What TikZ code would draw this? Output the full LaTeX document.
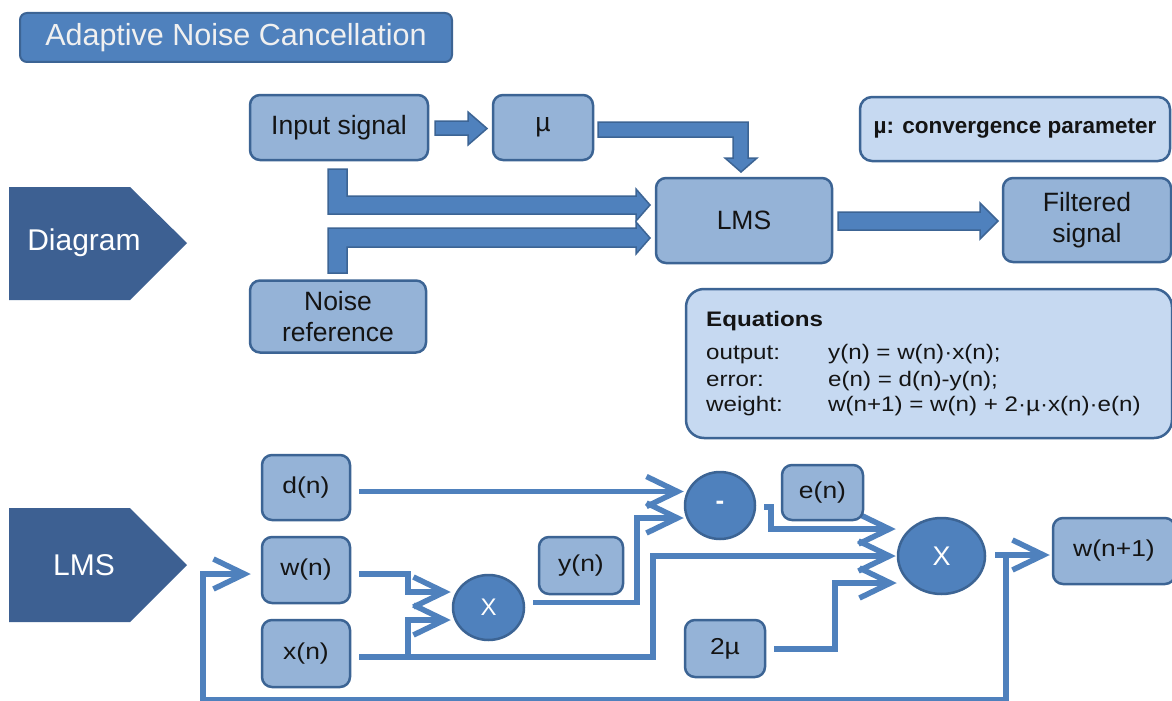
\documentclass[tikz,border=0pt]{standalone}
\usepackage{fontspec}
\setmainfont{Liberation Sans}
\newfontfamily\wfont[FakeStretch=1.15]{Liberation Sans}
\usetikzlibrary{arrows.meta,calc,shapes.geometric}
\definecolor{boxfill}{HTML}{95B3D7}
\definecolor{boxdraw}{HTML}{3C6494}
\definecolor{lightfill}{HTML}{C6D9F1}
\definecolor{mid}{HTML}{4F81BD}
\definecolor{navy}{HTML}{3D6092}
\definecolor{txt}{HTML}{141414}
\newcommand\fsTitle{\fontsize{30.5}{35}\selectfont}
\newcommand\fsSide{\fontsize{30}{35}\selectfont}
\newcommand\fsTop{\fontsize{26.5}{31.5}\selectfont}
\newcommand\fsBot{\wfont\fontsize{23}{28}\selectfont}
\newcommand\fsInfo{\fontsize{22.5}{26}\selectfont}
\newcommand\fsEq{\wfont\fontsize{21}{25}\selectfont}
\tikzset{
  box/.style={draw=boxdraw, line width=2.5pt, fill=boxfill, rounded corners=10pt,
    inner sep=0pt, align=center, text=txt},
  topbox/.style={box, font=\fsTop},
  botbox/.style={box, font=\fsBot},
  lightbox/.style={draw=boxdraw, line width=2.5pt, fill=lightfill, rounded corners=12pt,
    inner sep=0pt, text=txt},
  circ/.style={ellipse, draw=boxdraw, line width=2.5pt, fill=mid, inner sep=0pt,
    text=white},
  conn/.style={draw=mid, line width=5.5pt, -{Straight Barb[length=31pt,width=30pt]}},
  fat/.style={fill=mid, draw=boxdraw, line width=1.5pt, line join=miter},
  pent/.style={fill=navy},
  eqtext/.style={anchor=base west, font=\fsEq, text=txt, inner sep=0pt},
}
\begin{document}
\begin{tikzpicture}[x=1pt,y=-1pt]
\useasboundingbox (0,0) rectangle (1172,701);
\fill[white] (0,0) rectangle (1172,701);

% title
\node[draw=boxdraw, line width=2pt, fill=mid, rounded corners=7pt,
  minimum width=432pt, minimum height=49pt, inner sep=0pt,
  text={rgb,255:red,240;green,240;blue,240}, font=\fsTitle] (title) at (236,37.5)
  {Adaptive Noise Cancellation};

% pentagons
\fill[pent] (9,187) -- (130,187) -- (187,243) -- (130,300) -- (9,300) -- cycle;
\node[text=white, font=\fsSide] (diag) at (84,243) {Diagram};
\fill[pent] (9,508) -- (130,508) -- (187,565) -- (130,622) -- (9,622) -- cycle;
\node[text=white, font=\fsSide] (lmslab) at (84,565) {LMS};

% upper diagram
\node[topbox, minimum width=178pt, minimum height=65pt] (in) at (339,127.5) {Input signal};
\node[topbox, minimum width=100pt, minimum height=65pt] (mu) at (543,127.5) {µ};
\node[lightbox, minimum width=310pt, minimum height=64pt, font=\bfseries\fsInfo] (info) at (1015,129) {µ: convergence parameter};
\node[topbox, minimum width=176pt, minimum height=85pt] (lms) at (744,220.5) {LMS};
\node[topbox, minimum width=168pt, minimum height=84pt] (filt) at (1087,220) {Filtered\\signal};
\node[topbox, minimum width=176pt, minimum height=72pt] (noise) at (338,316.5) {Noise\\reference};

% fat arrows
\draw[fat] (435,121) -- (468,121) -- (468,112) -- (487,128.5) -- (468,145) -- (468,135) -- (435,135) -- cycle;
\draw[fat] (598,122) -- (748,122) -- (748,158) -- (757,158) -- (741,172) -- (725,158) -- (733,158) -- (733,137) -- (598,137) -- cycle;
\draw[fat] (328,169) -- (347,169) -- (347,196) -- (636,196) -- (636,189) -- (650,205) -- (636,221) -- (636,214) -- (328,214) -- cycle;
\draw[fat] (328,228) -- (636,228) -- (636,222) -- (650,238) -- (636,254) -- (636,247) -- (347,247) -- (347,273) -- (328,273) -- cycle;
\draw[fat] (838,212) -- (980,212) -- (980,203) -- (998,221) -- (980,239) -- (980,230) -- (838,230) -- cycle;

% equations
\node[lightbox, rounded corners=18pt, minimum width=486pt, minimum height=149pt] (eqbox) at (929,363.5) {};
\node[eqtext, font=\bfseries\fsEq] (eqh) at (706,326.5) {Equations};
\node[eqtext] (l1) at (706,359) {output:};
\node[eqtext] (r1) at (828,359) {y(n) = w(n)·x(n);};
\node[eqtext] (l2) at (706,386.5) {error:};
\node[eqtext] (r2) at (828,386.5) {e(n) = d(n)-y(n);};
\node[eqtext] (l3) at (706,411.5) {weight:};
\node[eqtext] (r3) at (828,411.5) {w(n+1) = w(n) + 2·µ·x(n)·e(n)};

% lower diagram nodes
\node[botbox, minimum width=88pt, minimum height=65pt] (dn) at (306,487.5) {d(n)};
\node[botbox, minimum width=88pt, minimum height=66pt] (wn) at (306,570) {w(n)};
\node[botbox, minimum width=88pt, minimum height=67pt] (xn) at (306,653.5) {x(n)};
\node[circ, minimum width=71pt, minimum height=65pt, font=\fontsize{24}{28}\selectfont] (X1) at (488.5,607.5) {X};
\node[botbox, minimum width=84pt, minimum height=57pt] (yn) at (581,565.5) {y(n)};
\node[circ, minimum width=70pt, minimum height=67pt, font=\fontsize{26}{28}\selectfont] (minus) at (720,505.5) {\textbf{-}};
\node[circ, minimum width=87pt, minimum height=76pt, font=\fontsize{27}{30}\selectfont] (X2) at (941.5,556) {X};
\node[botbox, minimum width=122pt, minimum height=66pt] (wn1) at (1114,551) {w(n+1)};
\node[botbox, minimum width=80pt, minimum height=57pt] (twomu) at (725,648.5) {2µ};

% connectors
\draw[conn] ($(dn.east)+(8,4)$) -- ($(minus.west)+(0,-14)$);
\draw[conn] ($(X1.east)+(8,-5)$) -- (637,602.5) -- (637,518) -- ($(minus.west)+(0,12.5)$);
\draw[conn] ($(wn.east)+(8,4)$) -- (408,574) -- (408,592) -- ($(X1.west)+(-1,-15.5)$);
\draw[conn] (408,657) -- (408,620) -- ($(X1.west)+(-1,12.5)$);
\draw[conn] ($(xn.east)+(8,3.5)$) -- (653,657) -- (653,556) -- ($(X2.west)+(-1,0)$);
\draw[conn] ($(minus.east)+(8,1.5)$) -- (771,507) -- (771,529) -- ($(X2.west)+(-1,-27)$);
\draw[conn] ($(twomu.east)+(8,0.5)$) -- (835,649) -- (835,583) -- ($(X2.west)+(0,27)$);
\draw[conn] ($(X2.east)+(9,-1)$) -- ($(wn1.west)+(-2,4)$);
\coordinate (fb) at (1006,555);
\draw[conn] (fb) -- (1006,700) -- (203,700) -- (203,574) -- ($(wn.west)+(-10,4)$);

\node[botbox, minimum width=81pt, minimum height=55pt] (en) at (822.5,492.5) {e(n)};
\end{tikzpicture}
\end{document}
